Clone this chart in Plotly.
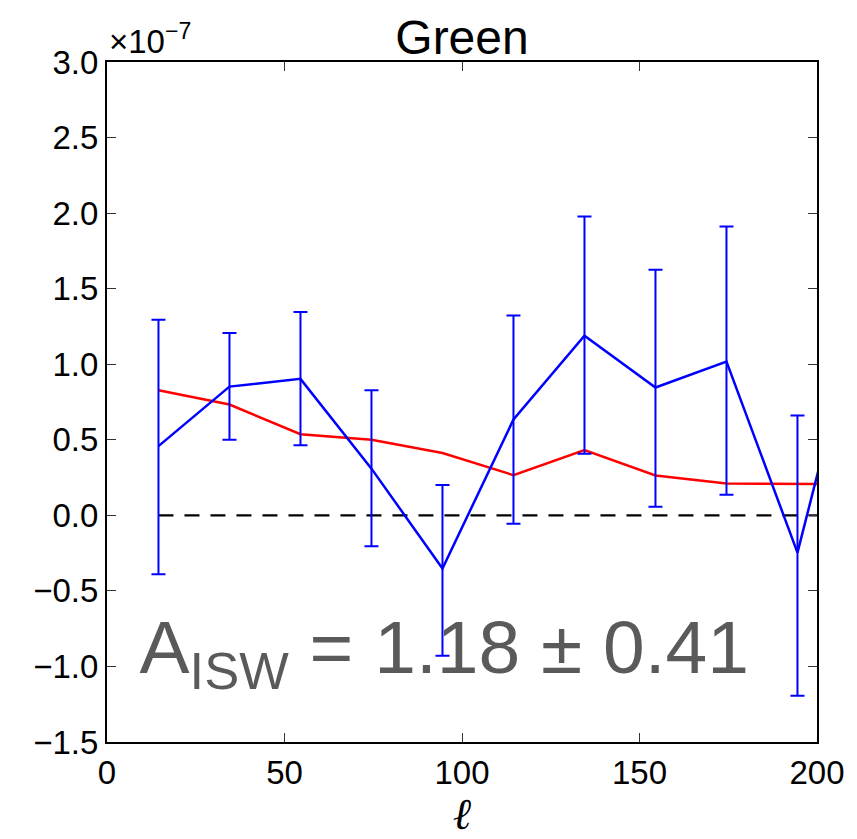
import plotly.graph_objects as go

# Multipole bin centres
ell = [14.5, 34.5, 54.5, 74.5, 94.5, 114.5, 134.5, 154.5, 174.5, 194.5, 214.5]

# Measured cross-spectrum (units of 1e-7) with asymmetric error bars
measured = [0.458, 0.852, 0.903, 0.309, -0.352, 0.634, 1.189, 0.846, 1.018, -0.247, 1.60]
err_plus = [0.837, 0.355, 0.443, 0.519, 0.552, 0.688, 0.789, 0.780, 0.894, 0.908, 0.0]
err_minus = [0.848, 0.352, 0.440, 0.514, 0.578, 0.689, 0.781, 0.789, 0.881, 0.947, 0.0]

# Theoretical ISW expectation (units of 1e-7)
theory = [0.828, 0.733, 0.537, 0.500, 0.412, 0.266, 0.432, 0.264, 0.211, 0.207, 0.205]

y_ticks = [-1.5, -1.0, -0.5, 0.0, 0.5, 1.0, 1.5, 2.0, 2.5, 3.0]
y_tick_text = ["\u22121.5", "\u22121.0", "\u22120.5", "0.0", "0.5", "1.0", "1.5", "2.0", "2.5", "3.0"]
x_ticks = [0, 50, 100, 150, 200]

FONT = "Liberation Sans, Arial, Helvetica, sans-serif"

fig = go.Figure()

# Amplitude label sits underneath the data
fig.add_trace(go.Scatter(
    x=[95], y=[-0.92], mode="text",
    text=["A<sub>ISW</sub> = 1.18 \u00b1 0.41"],
    textfont=dict(family=FONT, size=75, color="#5a5a5a"),
    textposition="middle center", showlegend=False, hoverinfo="skip",
))

# zero reference
fig.add_trace(go.Scatter(
    x=[ell[0], ell[-1]], y=[0, 0], mode="lines",
    line=dict(color="black", width=2.2, dash="15px,11px"),
    showlegend=False, hoverinfo="skip",
))

fig.add_trace(go.Scatter(
    x=ell, y=theory, mode="lines",
    line=dict(color="#ff0000", width=2.5),
    showlegend=False,
))

fig.add_trace(go.Scatter(
    x=ell, y=measured, mode="lines",
    line=dict(color="#0000ff", width=2.5),
    error_y=dict(type="data", symmetric=False, array=err_plus, arrayminus=err_minus,
                 color="#0000ff", thickness=2, width=7),
    showlegend=False,
))

fig.update_layout(
    width=857, height=839,
    margin=dict(l=107, r=35, t=62, b=96),
    paper_bgcolor="white", plot_bgcolor="white",
    font=dict(family=FONT, color="black"),
    showlegend=False,
    title=dict(text="Green", x=0.5, xref="paper", xanchor="center",
               y=1, yref="paper", yanchor="bottom", pad=dict(b=8),
               font=dict(family=FONT, size=48, color="black")),
    xaxis=dict(
        range=[0, 200], tickvals=x_ticks, ticks="inside", ticklen=9, tickwidth=1,
        tickcolor="#333", showgrid=False, zeroline=False,
        showline=True, linecolor="black", linewidth=2, mirror="allticks",
        tickfont=dict(family=FONT, size=33, color="black"),
        title=dict(text="<i>\u2113</i>", font=dict(family="DejaVu Serif", size=44, color="black"),
                   standoff=6),
    ),
    yaxis=dict(
        range=[-1.5, 3.0], tickvals=y_ticks, ticktext=y_tick_text, ticks="inside",
        ticklen=9, tickwidth=1, tickcolor="#333", showgrid=False, zeroline=False,
        showline=True, linecolor="black", linewidth=2, mirror="allticks",
        tickfont=dict(family=FONT, size=33, color="black"),
    ),
    annotations=[dict(
        text="\u00d710<sup>\u22127</sup>", xref="paper", yref="paper",
        x=0, y=1, xanchor="left", yanchor="bottom", yshift=0, showarrow=False,
        font=dict(family=FONT, size=33, color="black"),
    )],
)

fig.write_html("out.html")
